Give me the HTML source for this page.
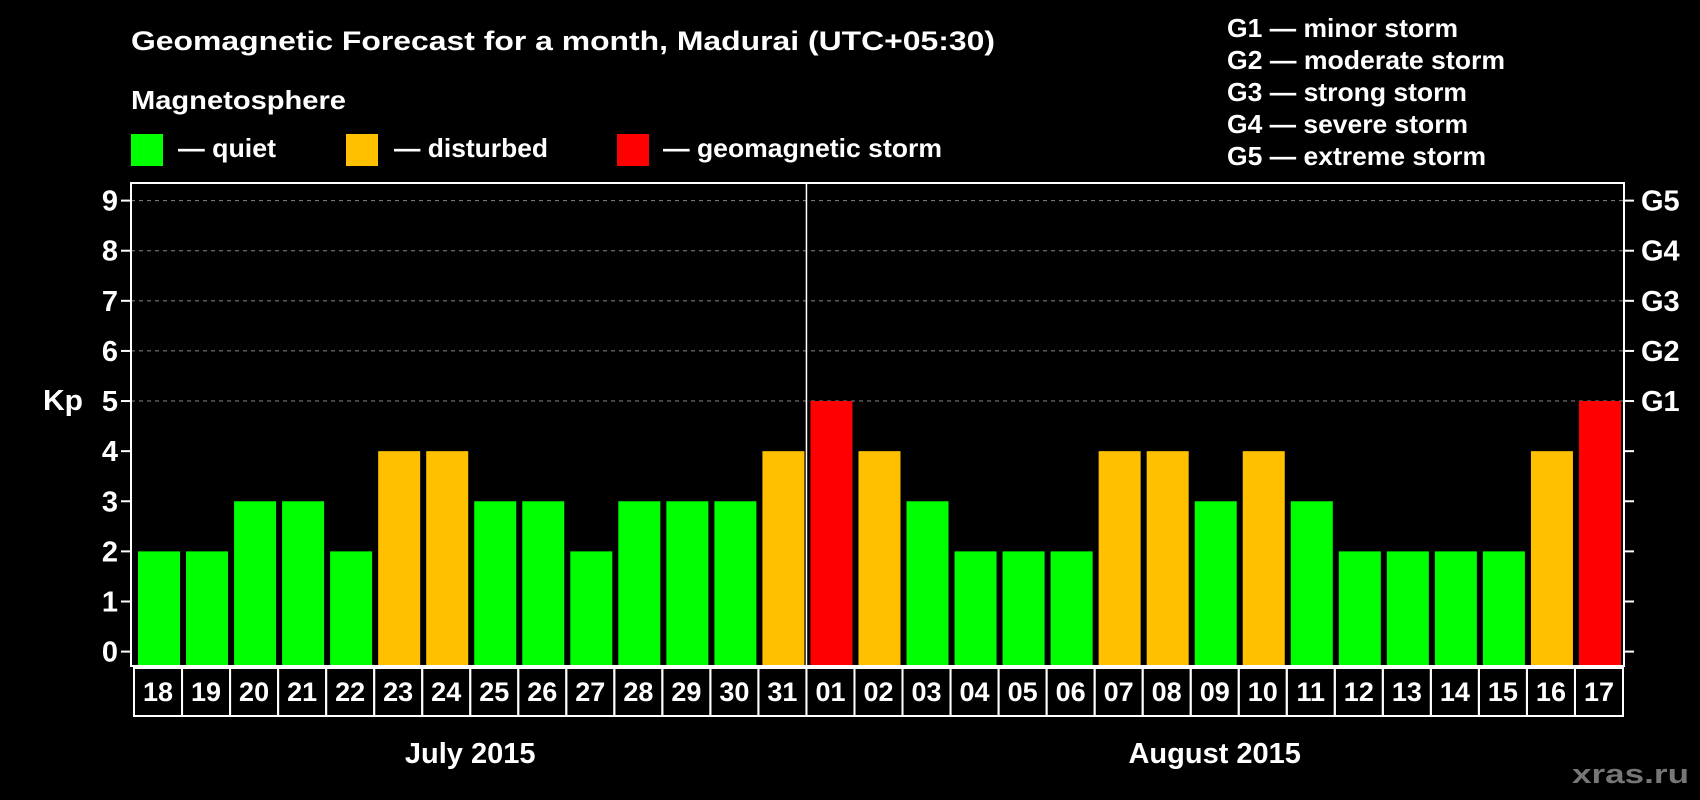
<!DOCTYPE html>
<html><head><meta charset="utf-8"><style>
html,body{margin:0;padding:0;background:#000;}
svg{display:block;font-family:"Liberation Sans",Arial,sans-serif;font-weight:bold;}
</style></head><body>
<svg id="c" width="1700" height="800" viewBox="0 0 1700 800">
<text x="131" y="50" fill="#fff" font-size="27" textLength="864" lengthAdjust="spacingAndGlyphs">Geomagnetic Forecast for a month, Madurai (UTC+05:30)</text>
<text x="131" y="109" fill="#fff" font-size="26" textLength="215" lengthAdjust="spacingAndGlyphs">Magnetosphere</text>
<rect x="131" y="134" width="32" height="32" fill="#00ff00"/>
<text x="178" y="157" fill="#fff" font-size="26" textLength="98" lengthAdjust="spacingAndGlyphs">— quiet</text>
<rect x="346" y="134" width="32" height="32" fill="#ffc000"/>
<text x="394" y="157" fill="#fff" font-size="26" textLength="154" lengthAdjust="spacingAndGlyphs">— disturbed</text>
<rect x="617" y="134" width="32" height="32" fill="#ff0000"/>
<text x="663" y="157" fill="#fff" font-size="26" textLength="279" lengthAdjust="spacingAndGlyphs">— geomagnetic storm</text>
<g font-size="26" fill="#fff">
<text x="1227" y="37" textLength="231" lengthAdjust="spacingAndGlyphs">G1 — minor storm</text>
<text x="1227" y="69" textLength="278" lengthAdjust="spacingAndGlyphs">G2 — moderate storm</text>
<text x="1227" y="101" textLength="240" lengthAdjust="spacingAndGlyphs">G3 — strong storm</text>
<text x="1227" y="133" textLength="241" lengthAdjust="spacingAndGlyphs">G4 — severe storm</text>
<text x="1227" y="165" textLength="259" lengthAdjust="spacingAndGlyphs">G5 — extreme storm</text>
</g>
<text x="43" y="410" fill="#fff" font-size="29" textLength="40" lengthAdjust="spacingAndGlyphs">Kp</text>
<text x="1572" y="783" fill="#777" font-size="27" textLength="117" lengthAdjust="spacingAndGlyphs">xras.ru</text>
<g id="plot"></g>
</svg>
<script>
const days = ["18","19","20","21","22","23","24","25","26","27","28","29","30","31","01","02","03","04","05","06","07","08","09","10","11","12","13","14","15","16","17"];
const kp = [2,2,3,3,2,4,4,3,3,2,3,3,3,4,5,4,3,2,2,2,4,4,3,4,3,2,2,2,2,4,5];
const yTicks = [0,1,2,3,4,5,6,7,8,9];
const gLabels = ["G1","G2","G3","G4","G5"];
const months = ["July 2015","August 2015"];
const monthStart = [0,14];

const NS="http://www.w3.org/2000/svg";
const g=document.getElementById('plot');
const L=131,R=1624,T=183,B=666,Y0=651.6,Y9=200.6;
const CL=134,CR=1623,CT=668,CB=716;
const slot=(CR-CL)/days.length;
const y=v=>Y0-(Y0-Y9)*v/9;
const x=i=>CL+i*slot;
function mk(t,a){const e=document.createElementNS(NS,t);for(const k in a)e.setAttribute(k,a[k]);g.appendChild(e);return e;}
yTicks.forEach(v=>{
  if(v>=5){const l=mk('line',{x1:L,x2:R,y1:y(v),y2:y(v),stroke:'#888','stroke-dasharray':'4 4','stroke-width':1});
  
  }
  const t=mk('line',{x1:L-10,x2:L,y1:y(v),y2:y(v),stroke:'#fff','stroke-width':2});
  
  
  const t2=mk('line',{x1:R,x2:R+10,y1:y(v),y2:y(v),stroke:'#fff','stroke-width':2});
  
  
  const lb=mk('text',{x:L-13,y:y(v)+10,fill:'#fff','font-size':29,'text-anchor':'end'});
  lb.textContent=v;
  
  
});
gLabels.forEach((s,i)=>{
  const lb=mk('text',{x:R+17,y:y(5+i)+10,fill:'#fff','font-size':29});
  lb.textContent=s;
  
  
});
kp.forEach((v,i)=>{
  const c=v>=5?'#ff0000':v===4?'#ffc000':'#00ff00';
  const b=mk('rect',{x:x(i)+4,y:y(v),width:42,height:B-y(v)-1,fill:c});
  
  
});
const fr=mk('rect',{x:L,y:T,width:R-L,height:B-T,fill:'none',stroke:'#fff','stroke-width':2});


monthStart.slice(1).forEach(m=>{
  const l=mk('line',{x1:x(m),x2:x(m),y1:T,y2:B,stroke:'#fff','stroke-width':1.5});
  
  
});
days.forEach((d,i)=>{
  const r=mk('rect',{x:x(i),y:CT,width:slot,height:CB-CT,fill:'none',stroke:'#fff','stroke-width':2});
  
  
  const t=mk('text',{x:x(i)+slot/2,y:701,fill:'#fff','font-size':27,'text-anchor':'middle'});
  t.textContent=d;
  
  
});
months.forEach((m,i)=>{
  const s=monthStart[i],e=i+1<monthStart.length?monthStart[i+1]:days.length;
  const t=mk('text',{x:(x(s)+x(e))/2,y:763,fill:'#fff','font-size':29,'text-anchor':'middle'});
  t.textContent=m;
  
  
});
</script>
</body></html>
